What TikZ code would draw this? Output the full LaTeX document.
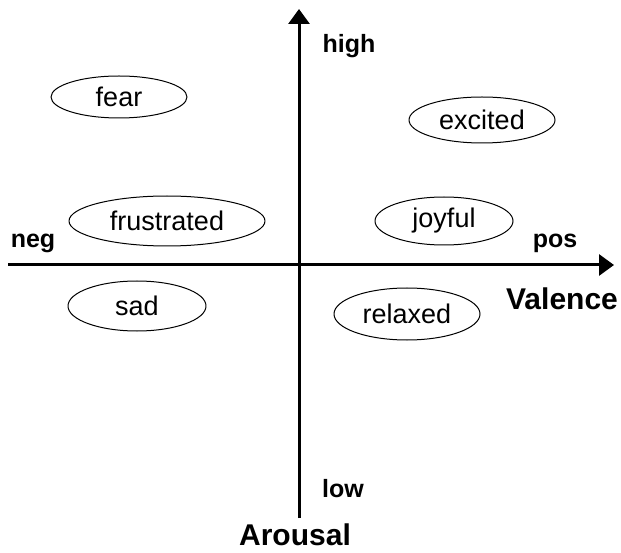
\documentclass[tikz,border=0pt]{standalone}
\usepackage{fontspec}
\setmainfont{Liberation Sans}
\usetikzlibrary{shapes.geometric,arrows.meta}
\tikzset{
	mood/.style={draw, ellipse, line width=1pt, inner sep=0pt, font=\fontsize{27}{30}\selectfont},
	axislabel/.style={font=\bfseries\fontsize{25}{28}\selectfont},
	axisname/.style={font=\bfseries\fontsize{30}{33}\selectfont},
	axis/.style={line width=3pt, -{Triangle[length=15pt, width=21pt]}}
}
\begin{document}
\begin{tikzpicture}[x=1pt, y=-1pt, line join=round]
		\useasboundingbox (0,0) rectangle (621,553);
		\coordinate (Vl) at (8,265);
		\coordinate (Vr) at (614,265);
		\coordinate (Ab) at (299,518);
		\coordinate (At) at (299,9);
		\draw[axis] (Vl) -- (Vr);
		\draw[axis] (Ab) -- (At);
		\node[mood, minimum width=136pt, minimum height=42pt] (fear) at (119,97) {fear};
		\node[mood, minimum width=146pt, minimum height=46pt] (excited) at (482,120) {excited};
		\node[mood, minimum width=196pt, minimum height=50pt] (frustrated) at (167,221) {frustrated};
		\node[mood, minimum width=138pt, minimum height=48pt] (joyful) at (444,221) {joyful};
		\node[mood, minimum width=138pt, minimum height=50pt] (sad) at (137,306) {sad};
		\node[mood, minimum width=146pt, minimum height=52pt] (relaxed) at (407,314) {relaxed};
		\node[axislabel] (high) at (349,46) {high};
		\node[axislabel] (low) at (343,489) {low};
		\node[axislabel] (neg) at (33,243) {neg};
		\node[axislabel] (pos) at (555,243) {pos};
		\node[axisname] (valence) at (562,299) {Valence};
		\node[axisname] (arousal) at (295,535) {Arousal};
\end{tikzpicture}
\end{document}
